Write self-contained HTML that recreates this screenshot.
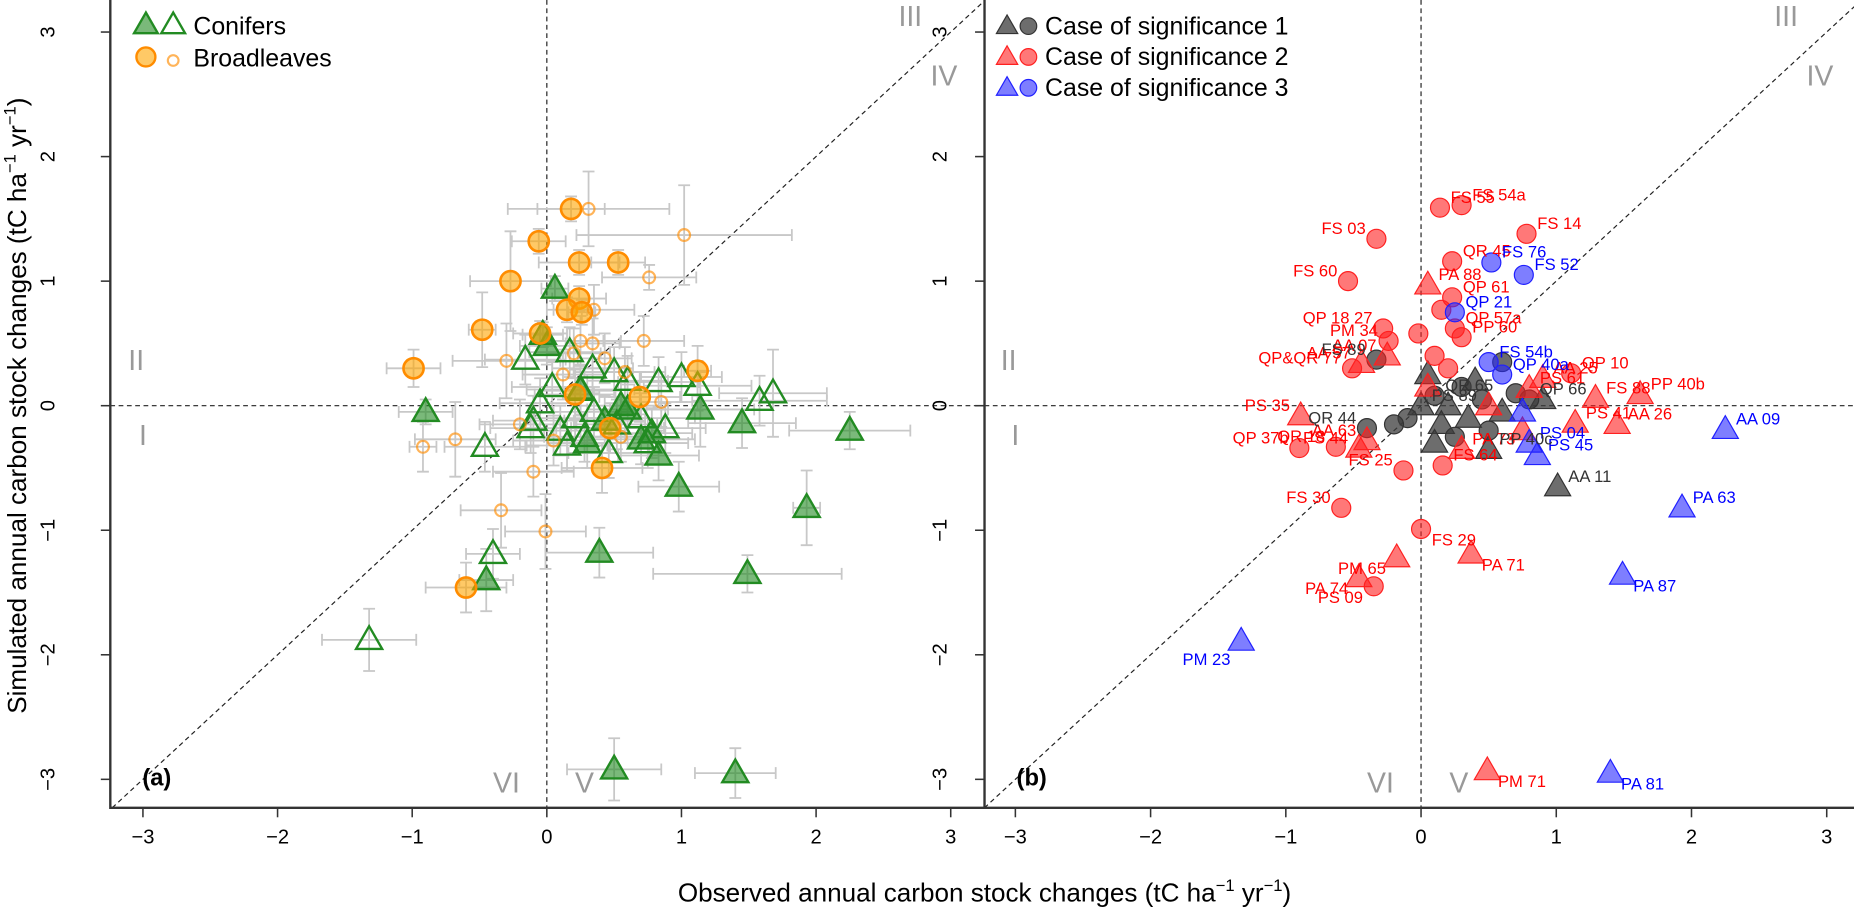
<!DOCTYPE html>
<html><head><meta charset="utf-8"><style>
html,body{margin:0;padding:0;background:#fff;}
svg{display:block;font-family:"Liberation Sans",Arial,sans-serif;}
</style></head><body>
<svg id="chart" width="1854" height="909" viewBox="0 0 1563 766.3" xmlns="http://www.w3.org/2000/svg">
<defs>
<clipPath id="clipA"><rect x="93" y="0" width="737" height="681"/></clipPath>
<clipPath id="clipB"><rect x="830" y="0" width="738" height="681"/></clipPath>
</defs>
<g id="root"></g>
</svg>
<script>
// ---- Panel (a) data ----
const aX  = [0.06,-0.03,0.0,-0.9,1.45,2.25,1.93,0.98,0.39,1.49,-0.45,0.5,1.4,1.14,0.83,0.6,0.43,0.7,0.25,0.3,0.78,0.55,
 -1.32,-0.4,-0.46,-0.16,0.17,0.34,0.5,0.83,1.0,1.12,1.68,1.58,-0.1,0.04,0.25,0.21,0.46,0.1,0.35,0.7,0.88,0.15,-0.05,0.6,0.75,-0.12,0.28,0.52,
 0.18,-0.06,0.24,0.53,-0.27,0.24,0.15,0.26,-0.48,-0.05,-0.99,1.12,0.69,0.47,0.41,-0.6,0.21,
 0.31,1.02,0.76,0.35,-0.3,-0.92,-0.68,-0.34,-0.01,-0.1,0.25,0.34,0.2,0.58,0.43,0.72,0.85,-0.2,0.05,0.55,0.12];
const aY  = [0.94,0.57,0.48,-0.05,-0.14,-0.2,-0.82,-0.65,-1.18,-1.35,-1.4,-2.92,-2.95,-0.03,-0.4,-0.03,-0.12,-0.27,0.12,-0.3,-0.22,0.0,
 -1.88,-1.19,-0.33,0.37,0.43,0.3,0.27,0.19,0.23,0.16,0.1,0.04,-0.12,0.15,0.13,-0.1,-0.38,-0.2,-0.05,-0.1,-0.18,-0.32,0.02,0.2,-0.3,-0.18,-0.25,-0.15,
 1.58,1.32,1.15,1.15,1.0,0.86,0.77,0.75,0.61,0.58,0.3,0.28,0.07,-0.18,-0.5,-1.46,0.09,
 1.58,1.37,1.03,0.77,0.36,-0.33,-0.27,-0.84,-1.01,-0.53,0.52,0.5,0.42,0.27,0.38,0.52,0.03,-0.15,-0.28,-0.25,0.25];
const aXe = [0.1,0.15,0.2,0.2,0.4,0.45,0.1,0.3,0.4,0.7,0.2,0.35,0.3,0.4,0.3,0.3,0.3,0.4,0.3,0.3,0.3,0.3,
 0.35,0.2,0.3,0.3,0.3,0.3,0.3,0.3,0.3,0.4,0.4,0.5,0.3,0.3,0.4,0.3,0.3,0.3,0.3,0.4,0.3,0.3,0.3,0.3,0.3,0.3,0.3,0.3,
 0.25,0.2,0.3,0.2,0.3,0.2,0.15,0.1,0.1,0.2,0.2,0.1,0.3,0.4,0.3,0.3,0.3,
 0.6,0.8,0.35,0.3,0.4,0.1,0.3,0.3,0.3,0.3,0.3,0.2,0.2,0.3,0.2,0.3,0.3,0.3,0.3,0.3,0.3];
const aYe = [0.1,0.1,0.15,0.1,0.2,0.15,0.3,0.2,0.2,0.15,0.25,0.25,0.2,0.3,0.2,0.2,0.2,0.2,0.2,0.2,0.2,0.2,
 0.25,0.2,0.2,0.2,0.2,0.2,0.2,0.2,0.2,0.2,0.35,0.2,0.2,0.2,0.2,0.2,0.2,0.2,0.2,0.2,0.2,0.2,0.2,0.2,0.2,0.2,0.2,0.2,
 0.1,0.1,0.1,0.1,0.4,0.1,0.1,0.1,0.3,0.1,0.15,0.2,0.2,0.2,0.2,0.2,0.2,
 0.3,0.4,0.1,0.2,0.3,0.2,0.3,0.3,0.3,0.2,0.2,0.2,0.2,0.2,0.2,0.2,0.2,0.2,0.2,0.2,0.2];
const aType = [].concat(Array(22).fill('CF'),Array(28).fill('CH'),Array(17).fill('BF'),Array(21).fill('BH'));

// ---- Panel (b) data ----
const bX = [0.14,0.3,0.78,-0.33,-0.54,0.23,0.23,-0.28,-0.24,-0.51,1.11,-0.63,-0.9,-0.13,-0.59,0,-0.35,0.3,0.16,0.25,0.2,0.15,-0.02,0.1,
 0.05,-0.25,-0.44,0.9,0.8,1.62,1.29,-0.89,-0.46,-0.4,1.45,0.37,-0.18,-0.46,0.49,1.14,0.3,0.05,0.5,0.75,
 0.52,0.76,0.25,0.5,0.6,
 0.86,0.8,2.25,1.93,1.49,-1.33,1.4,0.75,
 -0.33,0.1,0.0,1.01,0.5,-0.4,-0.1,0.2,0.35,0.5,0.6,0.3,0.15,0.7,0.4,0.25,0.1,0.6,0.9,-0.2,0.05,0.45,0.8];
const bY = [1.59,1.61,1.38,1.34,1.0,1.16,0.87,0.62,0.52,0.3,0.26,-0.33,-0.34,-0.52,-0.82,-0.99,-1.45,0.55,-0.48,0.62,0.3,0.77,0.58,0.4,
 0.97,0.4,0.34,0.22,0.14,0.09,0.06,-0.08,-0.34,-0.28,-0.15,-1.19,-1.22,-1.38,-2.93,-0.14,-0.35,0.15,0.0,-0.2,
 1.15,1.05,0.75,0.35,0.25,
 -0.4,-0.3,-0.19,-0.82,-1.36,-1.89,-2.95,-0.05,
 0.37,0.08,0.0,-0.65,-0.35,-0.18,-0.1,0.0,-0.1,-0.2,-0.05,0.15,-0.15,0.1,0.2,-0.25,-0.3,0.35,0.05,-0.15,0.25,0.05,0.05];
const bShape = ['c','c','c','c','c','c','c','c','c','c','c','c','c','c','c','c','c','c','c','c','c','c','c','c',
 't','t','t','t','t','t','t','t','t','t','t','t','t','t','t','t','t','t','t','t',
 'c','c','c','c','c',
 't','t','t','t','t','t','t','t',
 'c','c','t','t','t','c','c','t','t','c','t','c','t','c','t','c','t','c','t','c','t','c','c'];
const bSig = [].concat(Array(44).fill(2),Array(13).fill(3),Array(23).fill(1));
const bLabel = ['FS 55','FS 54a','FS 14','FS 03','FS 60','QR 45','QP 61','QP 18 27','PM 34','QP&QR 77','QP 10','QR 18','QP 37b','FS 25','FS 30','FS 29','PS 09','PP 60','FS 64','QP 57a','','','','',
 'PA 88','AA 07','AA 57','AA 25','PS 61','PP 40b','FS 88','PS 35','PS 44','AA 63','AA 26','PA 71','PM 65','PA 74','PM 71','PS 41','PA 73','','','',
 'FS 76','FS 52','QP 21','FS 54b','QP 40a',
 'PS 45','PS 04','AA 09','PA 63','PA 87','PM 23','PA 81','',
 'FS 89','QR 65','PS 89','AA 11','PP 40c','QR 44','','','','','','','','','','','','','','','','','QP 66'];

const xTicks = [-3,-2,-1,0,1,2,3];
const yTicks = [-3,-2,-1,0,1,2,3];

// ---- axis functions ----
const xa = v => 461 + v*113.5;
const xb = v => 1198 + v*114;
const yy = v => 342 - v*105;

const NS='http://www.w3.org/2000/svg';
const root=document.getElementById('root');
function mk(tag,attrs,parent,text){const e=document.createElementNS(NS,tag);for(const k in attrs)e.setAttribute(k,attrs[k]);if(text!==undefined)e.textContent=text;(parent||root).appendChild(e);return e;}
function tri(cx,cy,s){const h=s*0.87;return `${cx},${cy-h*0.6} ${cx-s/2},${cy+h*0.4} ${cx+s/2},${cy+h*0.4}`;}

function panel(id,x0,x1,xf,clip,letter,isA){
  const g=mk('g',{},root);
  
  
  const guides=mk('g',{'clip-path':'url(#'+clip+')'},g);
  const l1=mk('line',{x1:xf(0),y1:0,x2:xf(0),y2:681,stroke:'#222','stroke-width':1,'stroke-dasharray':'4,3'},guides);
  
  const l2=mk('line',{x1:x0,y1:yy(0),x2:x1,y2:yy(0),stroke:'#222','stroke-width':1,'stroke-dasharray':'4,3'},guides);
  
  const l3=mk('line',{x1:xf(-3.5),y1:yy(-3.5),x2:xf(3.5),y2:yy(3.5),stroke:'#222','stroke-width':1,'stroke-dasharray':'4,3'},guides);
  
  const q=[['III',xf(2.7),22],['IV',xf(2.95),72],['II',xf(-3.05),312],['I',xf(-3.0),375],['VI',xf(-0.3),668],['V',xf(0.28),668]];
  q.forEach(d=>{const t=mk('text',{x:d[1],y:d[2],'font-size':24,fill:'#999','text-anchor':'middle'},g,d[0]);
    });
  xTicks.forEach(v=>{mk('line',{x1:xf(v),y1:681,x2:xf(v),y2:689,stroke:'#333','stroke-width':1.3},g);
    const t=mk('text',{x:xf(v),y:711,'font-size':17,'text-anchor':'middle',fill:'#000'},g,v<0?'−'+(-v):String(v));
    });
  yTicks.forEach(v=>{mk('line',{x1:x0-8,y1:yy(v),x2:x0,y2:yy(v),stroke:'#333','stroke-width':1.3},g);
    const lx=isA?x0-47:x0-32;
    const t=mk('text',{x:lx,y:yy(v),'font-size':17,'text-anchor':'middle',fill:'#000',transform:`rotate(-90 ${lx} ${yy(v)})`},g,v<0?'−'+(-v):String(v));
    });
  const lt=mk('text',{x:x0+27,y:662,'font-size':20,'font-weight':'bold'},g,letter);
  
  return g;
}
const gA=panel('a',93,830,xa,'clipA','(a)',true);
const gB=panel('b',830,1568,xb,'clipB','(b)',false);

const errG=mk('g',{'clip-path':'url(#clipA)'},gA);


aX.forEach((v,i)=>{
  const cx=xa(v),cy=yy(aY[i]),x1=xa(v-aXe[i]),x2=xa(v+aXe[i]),y1=yy(aY[i]+aYe[i]),y2=yy(aY[i]-aYe[i]);
  const p=`M${x1},${cy}H${x2}M${cx},${y1}V${y2}M${x1},${cy-5}V${cy+5}M${x2},${cy-5}V${cy+5}M${cx-5},${y1}H${cx+5}M${cx-5},${y2}H${cx+5}`;
  const e=mk('path',{d:p,stroke:'#c8c8c8','stroke-width':1.5,fill:'none'},errG);
  
  
});
const ptsA=mk('g',{'clip-path':'url(#clipA)'},gA);
aX.forEach((v,i)=>{
  const cx=xa(v),cy=yy(aY[i]),t=aType[i];let el;
  if(t==='CF') el=mk('polygon',{points:tri(cx,cy,22),fill:'rgba(34,139,34,0.6)',stroke:'#228B22','stroke-width':2},ptsA);
  else if(t==='CH') el=mk('polygon',{points:tri(cx,cy,22),fill:'none',stroke:'#228B22','stroke-width':2},ptsA);
  else if(t==='BF') el=mk('circle',{cx:cx,cy:cy,r:8.5,fill:'rgba(255,165,0,0.6)',stroke:'#ff8c00','stroke-width':2.2},ptsA);
  else el=mk('circle',{cx:cx,cy:cy,r:5,fill:'none',stroke:'rgba(255,140,0,0.65)','stroke-width':1.8},ptsA);
  
  
});
const legA=mk('g',{},gA);


mk('polygon',{points:tri(123,21,20),fill:'rgba(34,139,34,0.6)',stroke:'#228B22','stroke-width':2},legA);
mk('polygon',{points:tri(146,21,20),fill:'none',stroke:'#228B22','stroke-width':2},legA);
const ln1=mk('text',{x:163,y:29,'font-size':21},legA,'Conifers');

mk('circle',{cx:123,cy:48,r:8,fill:'rgba(255,165,0,0.6)',stroke:'#ff8c00','stroke-width':2},legA);
mk('circle',{cx:146,cy:51,r:4.5,fill:'none',stroke:'rgba(255,140,0,0.65)','stroke-width':1.8},legA);
const ln2=mk('text',{x:163,y:56,'font-size':21},legA,'Broadleaves');


const sigFill={1:'rgba(60,60,60,0.75)',2:'rgba(255,30,30,0.6)',3:'rgba(40,40,255,0.6)'};
const sigStroke={1:'#333',2:'#ff2020',3:'#2020ff'};
const sigText={1:'#333',2:'#ff0000',3:'#0000ff'};
const ptsB=mk('g',{'clip-path':'url(#clipB)'},gB);
[1,2,3].forEach(sig=>{
  bX.forEach((v,i)=>{
    if(bSig[i]!==sig)return;
    const cx=xb(v),cy=yy(bY[i]);let el;
    if(bShape[i]==='t') el=mk('polygon',{points:tri(cx,cy,22),fill:sigFill[sig],stroke:sigStroke[sig],'stroke-width':1},ptsB);
    else el=mk('circle',{cx:cx,cy:cy,r:8,fill:sigFill[sig],stroke:sigStroke[sig],'stroke-width':1},ptsB);
    
    
  });
});
bX.forEach((v,i)=>{
  if(!bLabel[i])return;
  const cx=xb(v),cy=yy(bY[i]);const right=v>=0;
  const t=mk('text',{x:right?cx+9:cx-9,y:cy+(v<-1?20:(bY[i]<-0.9?14:-4)),'font-size':14,fill:sigText[bSig[i]],'text-anchor':right?'start':'end'},gB,bLabel[i]);
  
  
});
const legB=mk('g',{},gB);


[1,2,3].forEach((s,k)=>{
  const yv=22+k*26;
  mk('polygon',{points:tri(849,yv,18),fill:sigFill[s],stroke:sigStroke[s],'stroke-width':1},legB);
  mk('circle',{cx:867,cy:yv,r:7,fill:sigFill[s],stroke:sigStroke[s],'stroke-width':1},legB);
  const t=mk('text',{x:881,y:yv+7,'font-size':21},legB,'Case of significance '+s);
  
  
});

const fa=mk('path',{d:'M93,0V681H830',stroke:'#333','stroke-width':2,fill:'none'},root);

const fb=mk('path',{d:'M830,0V681H1568',stroke:'#333','stroke-width':2,fill:'none'},root);


const xt=mk('text',{x:830,y:760,'font-size':22,'text-anchor':'middle'},root);
xt.innerHTML='Observed annual carbon stock changes (tC ha<tspan font-size="14" dy="-9">−1</tspan><tspan dy="9"> yr</tspan><tspan font-size="14" dy="-9">−1</tspan><tspan dy="9">)</tspan>';


const yt=mk('text',{x:22,y:342,'font-size':22,'text-anchor':'middle',transform:'rotate(-90 22 342)'},root);
yt.innerHTML='Simulated annual carbon stock changes (tC ha<tspan font-size="14" dy="-9">−1</tspan><tspan dy="9"> yr</tspan><tspan font-size="14" dy="-9">−1</tspan><tspan dy="9">)</tspan>';


</script>
</body></html>
